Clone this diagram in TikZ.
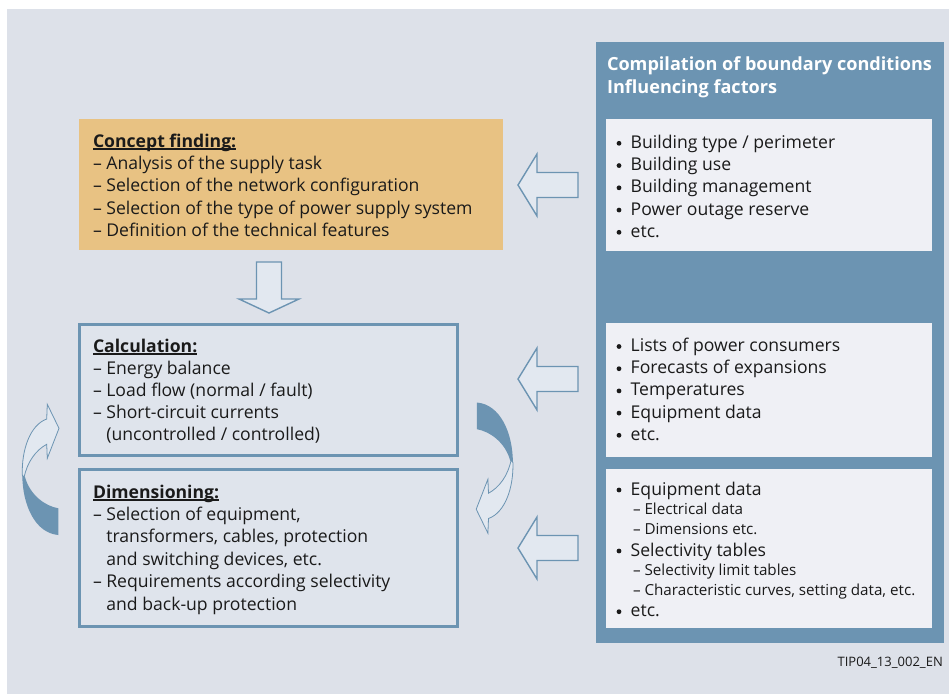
\documentclass[tikz,border=0pt]{standalone}
\usepackage{fontspec}
\setmainfont{Open Sans}
\usetikzlibrary{calc}
\definecolor{panelbg}{HTML}{DDE1E9}
\definecolor{steel}{HTML}{6C94B2}
\definecolor{ochre}{HTML}{E8C283}
\definecolor{paper}{HTML}{EFF0F5}
\definecolor{boxfill}{HTML}{DFE4EC}
\definecolor{arrfill}{HTML}{E2E8F0}
\definecolor{ink}{HTML}{1A1A1A}
\newcommand\myul[1]{\setbox0=\hbox{#1}\rlap{\rule[-2.6pt]{\wd0}{1.2pt}}\box0}
\tikzset{
  txt/.style={anchor=base west, inner sep=0, outer sep=0, text=ink, font=\fontsize{17.6}{21}\selectfont},
  smalltxt/.style={txt, font=\fontsize{15.2}{17}\selectfont},
  bul/.style={fill=ink},
  box/.style={anchor=north west, inner sep=0, outer sep=0},
  hollow/.style={draw=steel, line width=1.4pt, fill=arrfill, line join=miter},
  larrow/.pic={\path[hollow] (0,0) -- (19,-31) -- (19,-12.5) -- (60,-12.5) -- (60,12.5) -- (19,12.5) -- (19,31) -- cycle;},
  darrow/.pic={\path[hollow] (0,0) -- (-30,-14) -- (-12.5,-14) -- (-12.5,-51) -- (12.5,-51) -- (12.5,-14) -- (30,-14) -- cycle;},
  curvy/.pic={
    \path[fill=arrfill, draw=steel, line width=0.8pt] (-18.2,5.5) .. controls (-19,-19.5) and (-10.5,-44.5) .. (6.2,-50.5) -- (6.8,-65.2) -- (18.5,-41.2) -- (6.8,-11.2) -- (6.2,-25.2) .. controls (-4.5,-19.5) and (-13.5,-7.5) .. (-16.5,8.5) -- cycle;
    \fill[steel] (-18.2,5.5) .. controls (-18,35.5) and (-5.5,63.5) .. (17.8,65.5) -- (17.8,38.8) .. controls (4.5,36.5) and (-10.5,25.5) .. (-15.5,7.5) -- cycle;
  }
}
\begin{document}
\begin{tikzpicture}[x=1pt,y=-1pt]
\useasboundingbox (0,0) rectangle (949,694);
\fill[white] (0,0) rectangle (949,694);
\fill[panelbg] (7,9) rectangle (949,694);

% right panel
\node[box, fill=steel, minimum width=348, minimum height=601] (panel) at (596,42) {};
\node[box, fill=paper, minimum width=326, minimum height=132] (wb1) at (606,119) {};
\node[box, fill=paper, minimum width=326, minimum height=134] (wb2) at (606,323) {};
\node[box, fill=paper, minimum width=326, minimum height=159] (wb3) at (606,469) {};
\node[txt, text=white, font=\fontsize{18.1}{21}\selectfont\bfseries] (t1) at (607,70.7) {Compilation of boundary conditions};
\node[txt, text=white, font=\fontsize{18.1}{21}\selectfont\bfseries] (t2) at (607,93.3) {Influencing factors};

% left boxes
\node[box, fill=ochre, minimum width=424, minimum height=131] (concept) at (79,119) {};
\node[box, draw=steel, line width=3pt, fill=boxfill, minimum width=378, minimum height=131] (calc) at (79.5,324.5) {};
\node[box, draw=steel, line width=3pt, fill=boxfill, minimum width=378, minimum height=157] (dim) at (79.5,469.5) {};

% texts left
\foreach \t [count=\i] in {{\myul{\textbf{Concept finding:}}},{– Analysis of the supply task},{– Selection of the network configuration},{– Selection of the type of power supply system},{– Definition of the technical features}}
  \node[txt] (cf\i) at (93,{147+22.4*(\i-1)}) {\t};
\foreach \t [count=\i] in {{\myul{\textbf{Calculation:}}},{– Energy balance},{– Load flow (normal / fault)},{– Short-circuit currents},{\phantom{– }(uncontrolled / controlled)}}
  \node[txt] (ca\i) at (93,{352+22.2*(\i-1)}) {\t};
\foreach \t [count=\i] in {{\myul{\textbf{Dimensioning:}}},{– Selection of equipment,},{\phantom{– }transformers, cables, protection},{\phantom{– }and switching devices, etc.},{– Requirements according selectivity},{\phantom{– }and back-up protection}}
  \node[txt] (di\i) at (93,{498+22.4*(\i-1)}) {\t};

% texts right
\foreach \t [count=\i] in {{Building type / perimeter},{Building use},{Building management},{Power outage reserve},{etc.}}{
  \node[txt] (ra\i) at (630.7,{148.3+22.25*(\i-1)}) {\t};
  \fill[bul] ($(ra\i.base west)+(-11.7,-5)$) circle (2.4);
}
\foreach \t [count=\i] in {{Lists of power consumers},{Forecasts of expansions},{Temperatures},{Equipment data},{etc.}}{
  \node[txt] (rb\i) at (630.7,{351.5+22.2*(\i-1)}) {\t};
  \fill[bul] ($(rb\i.base west)+(-11.7,-5)$) circle (2.4);
}
\node[txt] (rc1) at (630.7,495) {Equipment data};
\node[smalltxt] (rc2) at (633,514) {– Electrical data};
\node[smalltxt] (rc3) at (633,534.5) {– Dimensions etc.};
\node[txt] (rc4) at (630.7,556) {Selectivity tables};
\node[smalltxt] (rc5) at (633,575) {– Selectivity limit tables};
\node[smalltxt] (rc6) at (633,595.5) {– Characteristic curves, setting data, etc.};
\node[txt] (rc7) at (630.7,616.7) {etc.};
\foreach \n in {rc1,rc4,rc7}
  \fill[bul] ($(\n.base west)+(-11.7,-5)$) circle (2.4);

\node[anchor=base east, inner sep=0, text=ink, font=\fontsize{13}{15}\selectfont] (tag) at (943,666.5) {TIP04\_13\_002\_EN};

% hollow arrows (connectors)
\pic at ($(concept.east)+(15,0.5)$) {larrow};
\pic at ($(calc.east)+(60.5,-11)$) {larrow};
\pic at ($(dim.east)+(60.5,0)$) {larrow};
\pic at ($(concept.south west)+(190,63)$) {darrow};

% curved arrows
\pic at (40.5,469.5) {curvy};
\pic[rotate=180] at (494.7,468) {curvy};
\end{tikzpicture}
\end{document}
